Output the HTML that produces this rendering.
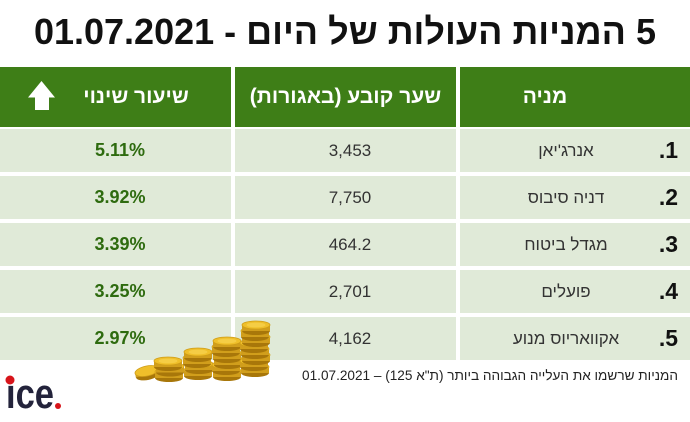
<!DOCTYPE html>
<html><head><meta charset="utf-8">
<style>
html,body{margin:0;padding:0;background:#fff;}
body{width:690px;height:422px;position:relative;overflow:hidden;font-family:"Liberation Sans","Noto Sans CJK JP",sans-serif;}
.a{position:absolute;white-space:nowrap;}
.hd{position:absolute;background:#3e7e17;top:67px;height:60px;}
.rw{position:absolute;background:#e0ead8;height:43px;}
.ht{position:absolute;color:#fff;font-weight:bold;font-size:21px;line-height:60px;top:67px;text-align:center;white-space:nowrap;}
.pct{position:absolute;left:70px;width:100px;text-align:center;font-weight:bold;font-size:18px;line-height:43px;color:#2e6b0f;}
.val{position:absolute;left:300px;width:100px;text-align:center;font-size:17px;line-height:43px;color:#333;}
.nm{position:absolute;left:476px;width:180px;text-align:center;font-size:17px;line-height:43px;color:#333;white-space:nowrap;}
.no{position:absolute;right:12px;text-align:right;font-weight:bold;font-size:23px;line-height:43px;color:#111;}
</style></head>
<body>
<div class="a" dir="rtl" style="left:0;width:690px;top:14px;text-align:center;font-size:36px;line-height:36px;font-weight:bold;color:#111;">5 המניות העולות של היום - 01.07.2021</div>

<div class="hd" style="left:0;width:231px;"></div>
<div class="hd" style="left:235px;width:221px;"></div>
<div class="hd" style="left:460px;width:230px;"></div>

<div class="ht" dir="rtl" style="left:80px;width:112px;">שיעור שינוי</div>
<div class="ht" dir="rtl" style="left:235px;width:221px;">שער קובע (באגורות)</div>
<div class="ht" dir="rtl" style="left:495px;width:100px;">מניה</div>
<svg class="a" style="left:0;top:0" width="70" height="130"><polygon points="41.5,81 28,97.5 35,97.5 35,110 49,110 49,97.5 55,97.5" fill="#fff"/></svg>

<!-- rows -->
<div class="rw" style="top:129px;left:0;width:231px;"></div>
<div class="rw" style="top:129px;left:235px;width:221px;"></div>
<div class="rw" style="top:129px;left:460px;width:230px;"></div>
<div class="rw" style="top:176px;left:0;width:231px;"></div>
<div class="rw" style="top:176px;left:235px;width:221px;"></div>
<div class="rw" style="top:176px;left:460px;width:230px;"></div>
<div class="rw" style="top:223px;left:0;width:231px;"></div>
<div class="rw" style="top:223px;left:235px;width:221px;"></div>
<div class="rw" style="top:223px;left:460px;width:230px;"></div>
<div class="rw" style="top:270px;left:0;width:231px;"></div>
<div class="rw" style="top:270px;left:235px;width:221px;"></div>
<div class="rw" style="top:270px;left:460px;width:230px;"></div>
<div class="rw" style="top:317px;left:0;width:231px;"></div>
<div class="rw" style="top:317px;left:235px;width:221px;"></div>
<div class="rw" style="top:317px;left:460px;width:230px;"></div>

<div class="pct" style="top:129px;">5.11%</div>
<div class="val" style="top:129px;">3,453</div>
<div class="nm" dir="rtl" style="top:129px;">אנרג'יאן</div>
<div class="no" dir="rtl" style="top:129px;">1.</div>

<div class="pct" style="top:176px;">3.92%</div>
<div class="val" style="top:176px;">7,750</div>
<div class="nm" dir="rtl" style="top:176px;">דניה סיבוס</div>
<div class="no" dir="rtl" style="top:176px;">2.</div>

<div class="pct" style="top:223px;">3.39%</div>
<div class="val" style="top:223px;">464.2</div>
<div class="nm" dir="rtl" style="top:223px;">מגדל ביטוח</div>
<div class="no" dir="rtl" style="top:223px;">3.</div>

<div class="pct" style="top:270px;">3.25%</div>
<div class="val" style="top:270px;">2,701</div>
<div class="nm" dir="rtl" style="top:270px;">פועלים</div>
<div class="no" dir="rtl" style="top:270px;">4.</div>

<div class="pct" style="top:317px;">2.97%</div>
<div class="val" style="top:317px;">4,162</div>
<div class="nm" dir="rtl" style="top:317px;">אקוואריוס מנוע</div>
<div class="no" dir="rtl" style="top:317px;">5.</div>

<!-- coins -->
<svg class="a" style="left:0;top:0" width="690" height="422">
<defs>
<g id="coin">
<ellipse cx="0" cy="6" rx="14" ry="4" fill="#a8770a"/>
<rect x="-14" y="0" width="28" height="6" fill="#d19e1c"/>
<ellipse cx="0" cy="0" rx="14" ry="4" fill="#efbf2a" stroke="#cf9d18" stroke-width="0.8"/>
<ellipse cx="0" cy="0" rx="9.5" ry="2.4" fill="#f5cd45"/>
</g>
</defs>
<g transform="rotate(-12 147 372)">
<ellipse cx="147" cy="375" rx="12" ry="5" fill="#a8770a"/>
<rect x="135" y="371" width="24" height="4" fill="#d19e1c"/>
<ellipse cx="147" cy="371" rx="12" ry="5" fill="#efbf2a" stroke="#cf9d18" stroke-width="0.8"/>
</g>
<use href="#coin" x="169" y="372"/>
<use href="#coin" x="170" y="366.5"/>
<use href="#coin" x="168" y="361"/>

<use href="#coin" x="198" y="370"/>
<use href="#coin" x="199" y="364"/>
<use href="#coin" x="197" y="358"/>
<use href="#coin" x="198" y="352"/>

<use href="#coin" x="227" y="371"/>
<use href="#coin" x="226" y="365"/>
<use href="#coin" x="228" y="359"/>
<use href="#coin" x="227" y="353"/>
<use href="#coin" x="226" y="347"/>
<use href="#coin" x="227" y="341"/>

<use href="#coin" x="255" y="367"/>
<use href="#coin" x="254" y="361"/>
<use href="#coin" x="256" y="355"/>
<use href="#coin" x="255" y="349"/>
<use href="#coin" x="254" y="343"/>
<use href="#coin" x="256" y="337"/>
<use href="#coin" x="255" y="331"/>
<use href="#coin" x="256" y="325"/>
</svg>

<div class="a" dir="rtl" style="right:12px;top:366px;font-size:13.6px;line-height:20px;color:#222;">המניות שרשמו את העלייה הגבוהה ביותר (ת"א 125) – 01.07.2021</div>

<svg class="a" style="left:0;top:365px" width="80" height="57">
<defs><clipPath id="cl"><rect x="0" y="19.5" width="80" height="40"/></clipPath></defs>
<text x="6" y="43" font-family="Liberation Sans" font-weight="bold" font-size="42" fill="#23233b" clip-path="url(#cl)" textLength="48" lengthAdjust="spacingAndGlyphs">ice</text>
<circle cx="10" cy="15" r="4.5" fill="#d7141a"/>
<circle cx="58" cy="41" r="3" fill="#d7141a"/>
</svg>
</body></html>
